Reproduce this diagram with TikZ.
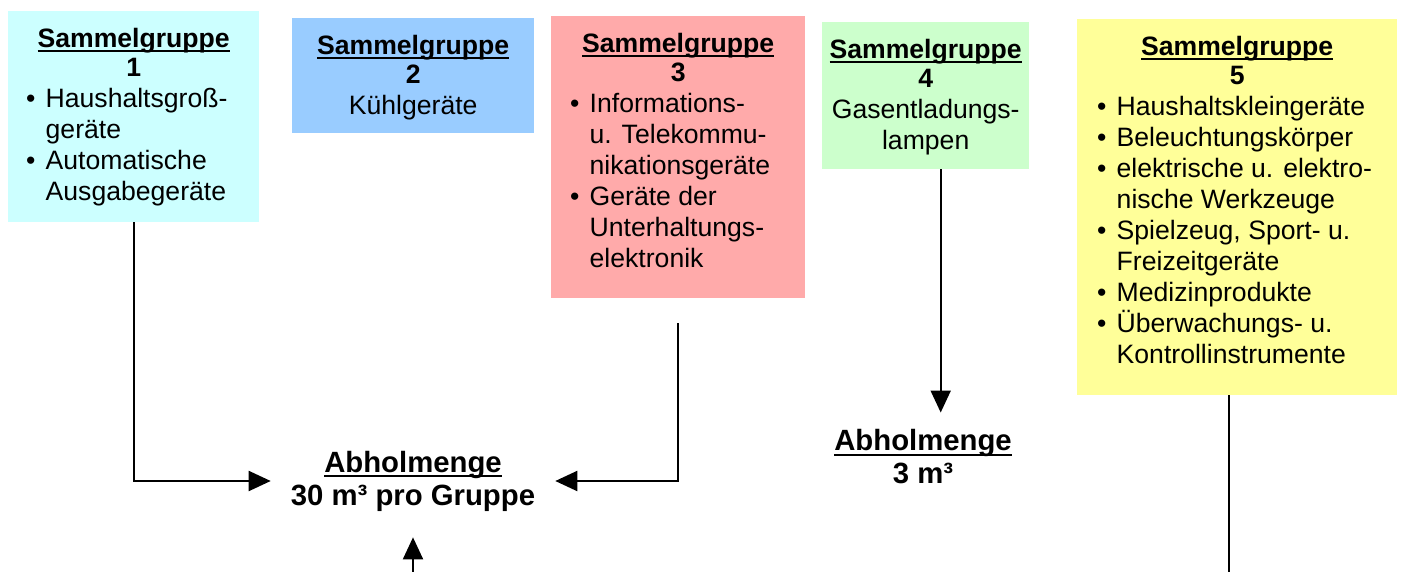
\documentclass[tikz,border=0pt]{standalone}
\usepackage{fontspec}
\setmainfont{Liberation Sans}
\usetikzlibrary{arrows.meta}
\definecolor{sgcyan}{HTML}{CCFFFF}
\definecolor{sgblau}{HTML}{99CCFF}
\definecolor{sgrot}{HTML}{FFAAAA}
\definecolor{sggruen}{HTML}{CCFFCC}
\definecolor{sggelb}{HTML}{FFFF99}
\tikzset{pfeil/.style={->, >={Triangle[length=22pt,width=20pt]}, line width=2pt}}
\tikzset{gruppe/.style={anchor=north west, inner sep=0pt, font=\fontsize{26.6}{31}\selectfont}}
\tikzset{menge/.style={align=center, inner xsep=20pt, font=\bfseries\fontsize{29.3}{33}\selectfont}}
\newcommand{\unterstr}[1]{\leavevmode\sbox0{#1}\rlap{\rule[-5pt]{\wd0}{2.2pt}}\usebox0}
\newcommand{\punkt}{\par\hangindent=19.5pt\hangafter=1\noindent\makebox[19.5pt][l]{\textbullet}}
\newcommand{\sgbox}[4]{\parbox[t][#2][t]{#1}{\vspace*{17pt}%
  {\centering\bfseries\unterstr{Sammelgruppe}\\[-2pt]#3\par}#4}}

\begin{document}
\begin{tikzpicture}[x=1pt,y=-1pt]
  \useasboundingbox (0,0) rectangle (1403,572);
  \node[gruppe, fill=sgcyan] (sg1) at (8,11) {\sgbox{251pt}{211pt}{1}{%
    {\raggedright\leftskip=18pt
     \punkt Haushaltsgroß-\newline geräte
     \punkt Automatische\newline Ausgabegeräte\par}}};
  \node[gruppe, fill=sgblau] (sg2) at (292,18) {\sgbox{242pt}{115pt}{2}{%
    {\centering Kühlgeräte\par}}};
  \node[gruppe, fill=sgrot] (sg3) at (551,16) {\sgbox{254pt}{282pt}{3}{%
    {\raggedright\leftskip=19pt
     \punkt Informations-\newline u. Telekommu-\newline nikationsgeräte
     \punkt Geräte der\newline Unterhaltungs-\newline elektronik\par}}};
  \node[gruppe, fill=sggruen] (sg4) at (822,22) {\sgbox{207pt}{147pt}{4}{%
    {\centering Gasentladungs-\\lampen\par}}};
  \node[gruppe, fill=sggelb] (sg5) at (1077,19) {\sgbox{320pt}{376pt}{5}{%
    {\raggedright\leftskip=20pt
     \punkt Haushaltskleingeräte
     \punkt Beleuchtungskörper
     \punkt elektrische u. elektro-\newline nische Werkzeuge
     \punkt Spielzeug, Sport- u.\newline Freizeitgeräte
     \punkt Medizinprodukte
     \punkt Überwachungs- u.\newline Kontrollinstrumente\par}}};
  \node[menge, inner ysep=26pt] (ab1) at (413,481) {\unterstr{Abholmenge}\\30 m³ pro Gruppe};
  \node[menge, inner ysep=17pt] (ab2) at (923,457) {\unterstr{Abholmenge}\\3 m³};
  \coordinate (p3) at ([yshift=-25pt]sg3.south);
  \coordinate (p4) at ([xshift=15pt]sg4.south);
  \coordinate (p5) at ([xshift=-8pt]sg5.south);
  \coordinate (unten) at (413,572);
  \draw[pfeil] (sg1.south) |- (ab1.west);
  \draw[pfeil] (p3) |- (ab1.east);
  \draw[pfeil] (unten) -- (ab1.south);
  \draw[pfeil] (p4) -- (p4 |- ab2.north);
  \draw[line width=2pt] (p5) -- (p5 |- unten);
\end{tikzpicture}
\end{document}
